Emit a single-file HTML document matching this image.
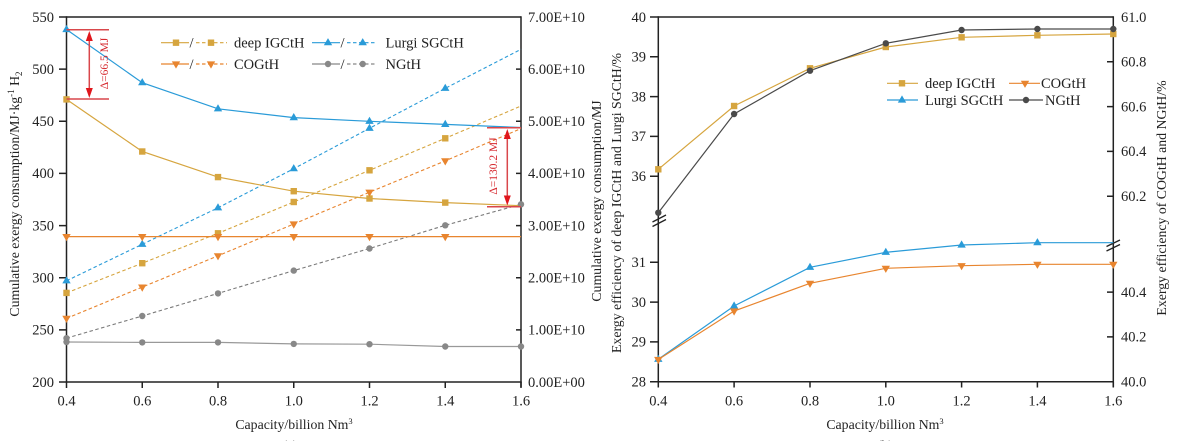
<!DOCTYPE html>
<html><head><meta charset="utf-8"><style>
html,body{margin:0;padding:0;background:#fff;}
svg{display:block;}
text{font-family:"Liberation Serif",serif;fill:#222;}
</style></head><body>
<svg width="1180" height="441" viewBox="0 0 1180 441" xmlns="http://www.w3.org/2000/svg">
<defs>
<rect id="sq" x="-3.2" y="-3.2" width="6.4" height="6.4"/>
<path id="tu" d="M0,-4.6 L4.2,2.6 L-4.2,2.6Z"/>
<path id="td" d="M0,4.6 L4.2,-2.6 L-4.2,-2.6Z"/>
<circle id="ci" r="3.2"/>
</defs>

<!-- ============ LEFT CHART ============ -->
<g stroke="#222" stroke-width="1.5" fill="none">
<line x1="66.5" y1="17" x2="521" y2="17"/>
<line x1="66.5" y1="16.3" x2="66.5" y2="382.7"/>
<line x1="66" y1="382" x2="521.7" y2="382"/>
<line x1="521" y1="16.3" x2="521" y2="387"/>
<path d="M59,17H66.5M59,69.1H66.5M59,121.3H66.5M59,173.4H66.5M59,225.6H66.5M59,277.7H66.5M59,329.9H66.5M59,382H66.5"/>
<path d="M66.5,382V388M142.25,382V388M218,382V388M293.75,382V388M369.5,382V388M445.25,382V388M521,382V388"/>
<path d="M516,69.1H521M516,121.3H521M516,173.4H521M516,225.6H521M516,277.7H521M516,329.9H521"/>
</g>
<g font-size="14.5" text-anchor="end">
<text x="54" y="21.8">550</text>
<text x="54" y="73.9">500</text>
<text x="54" y="126.1">450</text>
<text x="54" y="178.2">400</text>
<text x="54" y="230.4">350</text>
<text x="54" y="282.5">300</text>
<text x="54" y="334.7">250</text>
<text x="54" y="386.8">200</text>
</g>
<g font-size="14.5">
<text x="528" y="21.8">7.00E+10</text>
<text x="528" y="73.9">6.00E+10</text>
<text x="528" y="126.1">5.00E+10</text>
<text x="528" y="178.2">4.00E+10</text>
<text x="528" y="230.4">3.00E+10</text>
<text x="528" y="282.5">2.00E+10</text>
<text x="528" y="334.7">1.00E+10</text>
<text x="528" y="386.8">0.00E+00</text>
</g>
<g font-size="14.5" text-anchor="middle">
<text x="66.5" y="405.5">0.4</text>
<text x="142.25" y="405.5">0.6</text>
<text x="218" y="405.5">0.8</text>
<text x="293.75" y="405.5">1.0</text>
<text x="369.5" y="405.5">1.2</text>
<text x="445.25" y="405.5">1.4</text>
<text x="521" y="405.5">1.6</text>
<text x="294" y="429" font-size="13.8">Capacity/billion Nm<tspan font-size="8.5" dy="-5">3</tspan></text>
<text x="290" y="450" font-size="13.5">(a)</text>
</g>
<text font-size="13.8" text-anchor="middle" transform="translate(19,194) rotate(-90)">Cumulative exergy consumption/MJ·kg<tspan font-size="9" dy="-5">-1</tspan><tspan dy="5"> H</tspan><tspan font-size="9" dy="3">2</tspan></text>
<text font-size="13.8" text-anchor="middle" transform="translate(601,201) rotate(-90)">Cumulative exergy consumption/MJ</text>
<text font-size="13.8" text-anchor="middle" transform="translate(621,203) rotate(-90)">Exergy efficiency of deep IGCtH and Lurgi SGCtH/%</text>

<g fill="none" stroke-width="1.1" stroke-dasharray="3.5,2.5">
<polyline stroke="#2A9BD8" points="66.5,280.8 142.25,244.3 218,207.8 293.75,168.7 369.5,128.3 445.25,88.3 521,49.3"/>
<polyline stroke="#D6A53F" points="66.5,292.9 142.25,263.2 218,233.3 293.75,202 369.5,170.3 445.25,138.3 521,106"/>
<polyline stroke="#E8852F" points="66.5,318.4 142.25,287.1 218,255.8 293.75,224 369.5,192.2 445.25,160.9 521,128.6"/>
<polyline stroke="#7a7a7a" points="66.5,338.2 142.25,316 218,293.4 293.75,270.6 369.5,248.5 445.25,225.3 521,204.3"/>
</g>
<g fill="none" stroke-width="1.2">
<polyline stroke="#2A9BD8" points="66.5,29.5 142.25,82.7 218,108.8 293.75,117.6 369.5,121.3 445.25,124.4 521,127.5"/>
<polyline stroke="#D6A53F" points="66.5,99.4 142.25,151.5 218,177.1 293.75,191.2 369.5,198.5 445.25,202.6 521,205.7"/>
<polyline stroke="#E8852F" points="66.5,236.6 521,236.6"/>
<polyline stroke="#999" points="66.5,342 142.25,342.4 218,342.4 293.75,343.9 369.5,344.2 445.25,346.5 521,346.5"/>
</g>
<g fill="#2A9BD8">
<use href="#tu" x="66.5" y="29.5"/><use href="#tu" x="142.25" y="82.7"/><use href="#tu" x="218" y="108.8"/><use href="#tu" x="293.75" y="117.6"/><use href="#tu" x="369.5" y="121.3"/><use href="#tu" x="445.25" y="124.4"/>
<use href="#tu" x="66.5" y="280.8"/><use href="#tu" x="142.25" y="244.3"/><use href="#tu" x="218" y="207.8"/><use href="#tu" x="293.75" y="168.7"/><use href="#tu" x="369.5" y="128.3"/><use href="#tu" x="445.25" y="88.3"/>
</g>
<g fill="#D6A53F">
<use href="#sq" x="66.5" y="99.4"/><use href="#sq" x="142.25" y="151.5"/><use href="#sq" x="218" y="177.1"/><use href="#sq" x="293.75" y="191.2"/><use href="#sq" x="369.5" y="198.5"/><use href="#sq" x="445.25" y="202.6"/>
<use href="#sq" x="66.5" y="292.9"/><use href="#sq" x="142.25" y="263.2"/><use href="#sq" x="218" y="233.3"/><use href="#sq" x="293.75" y="202"/><use href="#sq" x="369.5" y="170.3"/><use href="#sq" x="445.25" y="138.3"/>
</g>
<g fill="#E8852F">
<use href="#td" x="66.5" y="236.6"/><use href="#td" x="142.25" y="236.6"/><use href="#td" x="218" y="236.6"/><use href="#td" x="293.75" y="236.6"/><use href="#td" x="369.5" y="236.6"/><use href="#td" x="445.25" y="236.6"/>
<use href="#td" x="66.5" y="318.4"/><use href="#td" x="142.25" y="287.1"/><use href="#td" x="218" y="255.8"/><use href="#td" x="293.75" y="224"/><use href="#td" x="369.5" y="192.2"/><use href="#td" x="445.25" y="160.9"/>
</g>
<g fill="#888">
<use href="#ci" x="66.5" y="342"/><use href="#ci" x="142.25" y="342.4"/><use href="#ci" x="218" y="342.4"/><use href="#ci" x="293.75" y="343.9"/><use href="#ci" x="369.5" y="344.2"/><use href="#ci" x="445.25" y="346.5"/><use href="#ci" x="521" y="346.5"/>
<use href="#ci" x="66.5" y="338.2"/><use href="#ci" x="142.25" y="316"/><use href="#ci" x="218" y="293.4"/><use href="#ci" x="293.75" y="270.6"/><use href="#ci" x="369.5" y="248.5"/><use href="#ci" x="445.25" y="225.3"/><use href="#ci" x="521" y="204.3"/>
</g>

<g stroke="#D9474B" stroke-width="1.5" fill="none">
<line x1="66.5" y1="29.7" x2="109" y2="29.7"/>
<line x1="66.5" y1="99" x2="109" y2="99"/>
<line x1="89.3" y1="38" x2="89.3" y2="91"/>
<line x1="487" y1="127.7" x2="521" y2="127.7"/>
<line x1="487" y1="206.7" x2="521" y2="206.7"/>
<line x1="507.3" y1="136" x2="507.3" y2="198"/>
</g>
<g fill="#E0161C">
<path d="M89.3,31 L92.8,41 L85.8,41Z"/>
<path d="M89.3,98 L92.8,88 L85.8,88Z"/>
<path d="M507.3,129 L510.8,139 L503.8,139Z"/>
<path d="M507.3,205.5 L510.8,195.5 L503.8,195.5Z"/>
</g>
<text font-size="11.5" text-anchor="middle" style="fill:#D6282E" transform="translate(108,63.5) rotate(-90)">Δ=66.5 MJ</text>
<text font-size="11.5" text-anchor="middle" style="fill:#D6282E" transform="translate(497,166) rotate(-90)">Δ=130.2 MJ</text>

<g stroke-width="1.2" fill="none">
<line x1="161" y1="42.7" x2="189" y2="42.7" stroke="#D6A53F"/>
<line x1="196" y1="42.7" x2="227" y2="42.7" stroke="#D6A53F" stroke-dasharray="3.5,2.5"/>
<line x1="161" y1="64" x2="189" y2="64" stroke="#E8852F"/>
<line x1="196" y1="64" x2="227" y2="64" stroke="#E8852F" stroke-dasharray="3.5,2.5"/>
<line x1="312" y1="42.7" x2="340" y2="42.7" stroke="#2A9BD8"/>
<line x1="347" y1="42.7" x2="377" y2="42.7" stroke="#2A9BD8" stroke-dasharray="3.5,2.5"/>
<line x1="312" y1="64" x2="340" y2="64" stroke="#888"/>
<line x1="347" y1="64" x2="377" y2="64" stroke="#888" stroke-dasharray="3.5,2.5"/>
</g>
<use href="#sq" x="176" y="42.7" fill="#D6A53F"/><use href="#sq" x="211" y="42.7" fill="#D6A53F"/>
<use href="#td" x="176" y="64" fill="#E8852F"/><use href="#td" x="211" y="64" fill="#E8852F"/>
<use href="#tu" x="328" y="42.7" fill="#2A9BD8"/><use href="#tu" x="362.7" y="42.7" fill="#2A9BD8"/>
<use href="#ci" x="328" y="64" fill="#888"/><use href="#ci" x="362.7" y="64" fill="#888"/>
<g font-size="14.5">
<text x="189.5" y="47.5">/</text>
<text x="189.5" y="69">/</text>
<text x="340.5" y="47.5">/</text>
<text x="340.5" y="69">/</text>
<text x="234" y="47.7">deep IGCtH</text>
<text x="234" y="69">COGtH</text>
<text x="385.5" y="47.7">Lurgi SGCtH</text>
<text x="385.5" y="69">NGtH</text>
</g>

<!-- ============ RIGHT CHART ============ -->
<g stroke="#222" stroke-width="1.5" fill="none">
<line x1="658.3" y1="17" x2="1113.3" y2="17"/>
<line x1="658.3" y1="16.3" x2="658.3" y2="382.4"/>
<line x1="657.6" y1="381.7" x2="1114" y2="381.7"/>
<line x1="1113.3" y1="16.3" x2="1113.3" y2="387"/>
<path d="M650,17H658.3M650,56.8H658.3M650,96.6H658.3M650,136.4H658.3M650,176.2H658.3M650,262.3H658.3M650,302.1H658.3M650,341.9H658.3M650,381.7H658.3"/>
<path d="M658.3,381.7V387.5M734.1,381.7V387.5M810,381.7V387.5M885.8,381.7V387.5M961.6,381.7V387.5M1037.4,381.7V387.5M1113.3,381.7V387.5"/>
<path d="M1107,61.8H1113.3M1107,106.6H1113.3M1107,151.4H1113.3M1107,196.2H1113.3M1107,292.1H1113.3M1107,336.9H1113.3"/>
</g>
<g stroke="#222" stroke-width="1.3" fill="none">
<line x1="652.5" y1="222" x2="666" y2="215"/>
<line x1="652.5" y1="226.5" x2="666" y2="219.5"/>
<line x1="1106.5" y1="246.5" x2="1120" y2="240"/>
<line x1="1106.5" y1="251" x2="1120" y2="244.5"/>
</g>
<g font-size="14.5" text-anchor="end">
<text x="646" y="21.8">40</text>
<text x="646" y="61.6">39</text>
<text x="646" y="101.4">38</text>
<text x="646" y="141.2">37</text>
<text x="646" y="181">36</text>
<text x="646" y="267.1">31</text>
<text x="646" y="306.9">30</text>
<text x="646" y="346.7">29</text>
<text x="646" y="386.5">28</text>
</g>
<g font-size="14.5">
<text x="1121" y="21.8">61.0</text>
<text x="1121" y="66.6">60.8</text>
<text x="1121" y="111.4">60.6</text>
<text x="1121" y="156.2">60.4</text>
<text x="1121" y="201">60.2</text>
<text x="1121" y="296.9">40.4</text>
<text x="1121" y="341.7">40.2</text>
<text x="1121" y="386.5">40.0</text>
</g>
<g font-size="14.5" text-anchor="middle">
<text x="658.3" y="405.5">0.4</text>
<text x="734.1" y="405.5">0.6</text>
<text x="810" y="405.5">0.8</text>
<text x="885.8" y="405.5">1.0</text>
<text x="961.6" y="405.5">1.2</text>
<text x="1037.4" y="405.5">1.4</text>
<text x="1113.3" y="405.5">1.6</text>
<text x="885" y="429" font-size="13.8">Capacity/billion Nm<tspan font-size="8.5" dy="-5">3</tspan></text>
<text x="885" y="450" font-size="13.5">(b)</text>
</g>
<text font-size="13.8" text-anchor="middle" transform="translate(1166,198) rotate(-90)">Exergy efficiency of COGtH and NGtH/%</text>

<g fill="none" stroke-width="1.2">
<polyline stroke="#D6A53F" points="658.3,169.3 734.1,106 810,68.3 885.8,47 961.6,37.3 1037.4,35.3 1113.3,34"/>
<polyline stroke="#4a4a4a" points="658.3,212.7 734.1,114 810,70.7 885.8,43.3 961.6,30 1037.4,29 1113.3,29"/>
<polyline stroke="#2A9BD8" points="658.3,359.3 734.1,306 810,267.3 885.8,252.3 961.6,245 1037.4,242.7 1113.3,242.7"/>
<polyline stroke="#E8852F" points="658.3,359.5 734.1,311 810,283.3 885.8,268.3 961.6,265.7 1037.4,264.3 1113.3,264.3"/>
</g>
<g fill="#D6A53F">
<use href="#sq" x="658.3" y="169.3"/><use href="#sq" x="734.1" y="106"/><use href="#sq" x="810" y="68.3"/><use href="#sq" x="885.8" y="47"/><use href="#sq" x="961.6" y="37.3"/><use href="#sq" x="1037.4" y="35.3"/><use href="#sq" x="1113.3" y="34"/>
</g>
<g fill="#4a4a4a">
<use href="#ci" x="658.3" y="212.7"/><use href="#ci" x="734.1" y="114"/><use href="#ci" x="810" y="70.7"/><use href="#ci" x="885.8" y="43.3"/><use href="#ci" x="961.6" y="30"/><use href="#ci" x="1037.4" y="29"/><use href="#ci" x="1113.3" y="29"/>
</g>
<g fill="#2A9BD8">
<use href="#tu" x="658.3" y="359.3"/><use href="#tu" x="734.1" y="306"/><use href="#tu" x="810" y="267.3"/><use href="#tu" x="885.8" y="252.3"/><use href="#tu" x="961.6" y="245"/><use href="#tu" x="1037.4" y="242.7"/>
</g>
<g fill="#E8852F">
<use href="#td" x="658.3" y="359.5"/><use href="#td" x="734.1" y="311"/><use href="#td" x="810" y="283.3"/><use href="#td" x="885.8" y="268.3"/><use href="#td" x="961.6" y="265.7"/><use href="#td" x="1037.4" y="264.3"/><use href="#td" x="1113.3" y="264.3"/>
</g>

<g stroke-width="1.2" fill="none">
<line x1="887" y1="83.3" x2="918" y2="83.3" stroke="#D6A53F"/>
<line x1="887" y1="100" x2="918" y2="100" stroke="#2A9BD8"/>
<line x1="1009" y1="83.3" x2="1040" y2="83.3" stroke="#E8852F"/>
<line x1="1009" y1="100" x2="1043" y2="100" stroke="#4a4a4a"/>
</g>
<use href="#sq" x="902" y="83.3" fill="#D6A53F"/>
<use href="#tu" x="902" y="100" fill="#2A9BD8"/>
<use href="#td" x="1025" y="83.3" fill="#E8852F"/>
<use href="#ci" x="1026" y="100" fill="#4a4a4a"/>
<g font-size="14.5">
<text x="925" y="88">deep IGCtH</text>
<text x="925" y="104.8">Lurgi SGCtH</text>
<text x="1041" y="88">COGtH</text>
<text x="1045" y="104.8">NGtH</text>
</g>
</svg>
</body></html>
